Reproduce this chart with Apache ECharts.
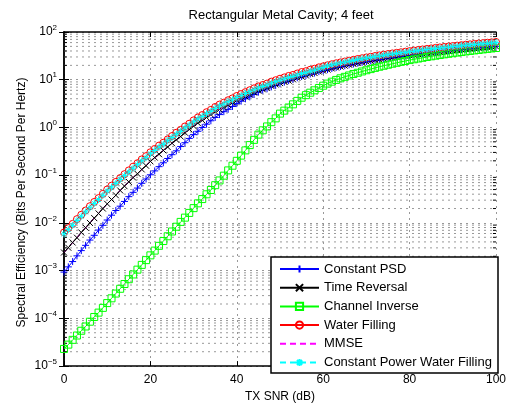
<!DOCTYPE html>
<html><head><meta charset="utf-8">
<script src="https://cdn.jsdelivr.net/npm/echarts@6/dist/echarts.min.js"></script>
<style>html,body{margin:0;padding:0;background:#fff}#c{width:509px;height:408px}</style>
</head><body><div id="c"></div>
<script>
// ---- data ----
const snrDb = [0,1,2,3,4,5,6,7,8,9,10,11,12,13,14,15,16,17,18,19,20,21,22,23,24,25,26,27,28,29,30,31,32,33,34,35,36,37,38,39,40,41,42,43,44,45,46,47,48,49,50,51,52,53,54,55,56,57,58,59,60,61,62,63,64,65,66,67,68,69,70,71,72,73,74,75,76,77,78,79,80,81,82,83,84,85,86,87,88,89,90,91,92,93,94,95,96,97,98,99,100];

const constantPsd = [9.33e-4,1.20e-3,1.55e-3,2.04e-3,2.63e-3,3.39e-3,4.37e-3,5.50e-3,7.08e-3,8.91e-3,
 1.15e-2,1.45e-2,1.82e-2,2.24e-2,2.82e-2,3.55e-2,4.37e-2,5.37e-2,6.76e-2,8.32e-2,
 0.102,0.123,0.151,0.182,0.224,0.269,0.324,0.398,0.479,0.589,
 0.708,0.832,1.00,1.17,1.38,1.62,1.86,2.14,2.40,2.75,
 3.16,3.55,3.98,4.37,4.90,5.50,6.03,6.46,7.08,7.59,
 8.32,8.91,9.55,10.2,11.0,11.7,12.3,13.2,13.8,14.8,
 15.5,16.3,17.2,18.0,18.9,19.7,20.6,21.4,22.3,23.1,
 24.0,24.8,25.6,26.5,27.3,28.2,29.0,29.9,30.7,31.6,
 32.4,33.3,34.2,35.1,35.9,36.8,37.7,38.6,39.5,40.4,
 41.3,42.1,43.0,43.9,44.8,45.7,46.6,47.4,48.3,49.2,50.1];

const timeReversal = [2.40e-3,3.02e-3,3.89e-3,4.90e-3,6.31e-3,7.94e-3,1.00e-2,1.26e-2,1.58e-2,2.00e-2,
 2.51e-2,3.09e-2,3.80e-2,4.79e-2,5.89e-2,7.24e-2,8.91e-2,0.107,0.132,0.158,
 0.195,0.234,0.275,0.331,0.389,0.468,0.550,0.646,0.776,0.912,
 1.07,1.23,1.41,1.62,1.86,2.14,2.40,2.63,2.95,3.31,
 3.72,4.07,4.47,4.90,5.37,5.89,6.31,6.76,7.41,7.94,
 8.51,9.12,9.55,10.2,11.0,11.7,12.3,13.2,13.8,14.8,
 15.5,16.3,17.2,18.0,18.9,19.7,20.6,21.4,22.3,23.1,
 24.0,24.8,25.6,26.5,27.3,28.2,29.0,29.9,30.7,31.6,
 32.4,33.3,34.2,35.1,35.9,36.8,37.7,38.6,39.5,40.4,
 41.3,42.1,43.0,43.9,44.8,45.7,46.6,47.4,48.3,49.2,50.1];

const channelInverse = [2.29e-5,2.82e-5,3.55e-5,4.37e-5,5.50e-5,6.76e-5,8.51e-5,1.07e-4,1.32e-4,1.66e-4,
 2.09e-4,2.63e-4,3.31e-4,4.17e-4,5.25e-4,6.61e-4,8.32e-4,1.05e-3,1.32e-3,1.66e-3,
 2.09e-3,2.63e-3,3.31e-3,4.17e-3,5.25e-3,6.61e-3,8.32e-3,1.05e-2,1.29e-2,1.62e-2,
 2.04e-2,2.57e-2,3.16e-2,3.98e-2,4.90e-2,6.17e-2,7.76e-2,9.77e-2,0.126,0.158,
 0.200,0.257,0.331,0.427,0.550,0.708,0.871,1.05,1.29,1.55,
 1.95,2.25,2.62,3.05,3.60,4.20,4.75,5.35,6.00,6.70,
 7.50,8.30,9.10,9.90,10.7,11.5,12.3,13.2,14.0,14.9,
 15.8,16.7,17.7,18.7,19.6,20.6,21.6,22.6,23.7,24.7,
 25.8,26.8,27.8,28.8,29.9,30.9,31.9,32.9,34.0,35.0,
 36.0,37.0,38.0,39.1,40.1,41.1,42.1,43.1,44.2,45.2,46.2];

const waterFilling = [6.31e-3,7.76e-3,9.55e-3,1.20e-2,1.48e-2,1.82e-2,2.24e-2,2.75e-2,3.31e-2,4.07e-2,
 5.01e-2,6.03e-2,7.24e-2,8.71e-2,0.105,0.126,0.151,0.178,0.214,0.251,
 0.302,0.355,0.417,0.479,0.562,0.661,0.776,0.891,1.05,1.20,
 1.41,1.62,1.82,2.09,2.34,2.69,3.02,3.31,3.72,4.07,
 4.57,5.01,5.50,6.03,6.61,7.24,7.76,8.32,9.12,9.77,
 10.5,11.2,12.0,12.6,13.5,14.5,15.1,16.2,17.0,18.2,
 19.1,20.1,21.1,22.1,23.1,24.1,25.1,26.1,27.2,28.2,
 29.3,30.3,31.4,32.4,33.5,34.5,35.6,36.6,37.6,38.7,
 39.8,40.9,42.0,43.1,44.2,45.3,46.4,47.5,48.6,49.7,
 50.8,51.9,53.0,54.1,55.2,56.3,57.4,58.5,59.6,60.7,61.8];

const mmse = [2.40e-3,3.02e-3,3.89e-3,4.90e-3,6.31e-3,7.94e-3,1.00e-2,1.26e-2,1.58e-2,2.00e-2,
 2.51e-2,3.09e-2,3.80e-2,4.79e-2,5.89e-2,7.24e-2,8.91e-2,0.107,0.132,0.158,
 0.195,0.234,0.275,0.331,0.389,0.468,0.550,0.646,0.776,0.912,
 1.07,1.23,1.41,1.62,1.86,2.14,2.40,2.63,2.95,3.31,
 3.72,4.07,4.47,4.90,5.37,5.75,6.13,6.56,7.17,7.67,
 8.21,8.78,9.19,9.80,10.5,11.2,11.8,12.6,13.2,14.1,
 14.8,15.6,16.4,17.3,18.1,18.9,19.7,20.5,21.4,22.2,
 23.0,23.8,24.6,25.5,26.3,27.1,27.9,28.7,29.6,30.4,
 31.2,32.1,32.9,33.8,34.6,35.5,36.4,37.2,38.1,38.9,
 39.8,40.7,41.5,42.4,43.2,44.1,45.0,45.8,46.7,47.5,48.4];

const constPowerWaterFilling = [5.87e-3,7.22e-3,8.88e-3,1.12e-2,1.38e-2,1.69e-2,2.08e-2,2.56e-2,3.08e-2,3.79e-2,
 4.66e-2,5.61e-2,6.73e-2,8.10e-2,9.77e-2,0.117,0.140,0.166,0.199,0.233,
 0.281,0.330,0.388,0.445,0.523,0.615,0.722,0.829,0.977,1.12,
 1.31,1.51,1.69,1.94,2.18,2.50,2.81,3.08,3.46,3.79,
 4.25,4.66,5.12,5.61,6.15,6.73,7.22,7.74,8.48,9.09,
 9.77,10.4,11.2,11.7,12.6,13.5,14.0,15.1,15.8,16.9,
 18.0,19.5,20.5,21.4,22.4,23.4,24.3,25.3,26.4,27.4,
 28.4,29.4,30.5,31.4,32.5,33.5,34.5,35.5,36.5,37.5,
 38.6,39.7,40.7,41.8,42.9,43.9,45.0,46.1,47.1,48.2,
 49.3,50.3,51.4,52.5,53.5,54.6,55.7,56.7,57.8,58.9,59.9];

const seriesNames = ['Constant PSD','Time Reversal','Channel Inverse','Water Filling','MMSE','Constant Power Water Filling'];
const xTicks = [0,20,40,60,80,100];
const yDecadeExponents = [-5,-4,-3,-2,-1,0,1,2];
const minorMultipliers = [2,3,4,5,6,7,8,9];

// ---- build ----
const FONT = '"Liberation Sans", Arial, Helvetica, sans-serif';
const pairs = ys => snrDb.map((x, i) => [x, ys[i]]);
const minorValues = [];
yDecadeExponents.slice(0, -1).forEach(e => minorMultipliers.forEach(m => minorValues.push([0, m * Math.pow(10, e)])));

const SYM_PLUS = 'path://M0,5L10,5M5,0L5,10';
const SYM_X = 'path://M0,0L10,10M10,0L0,10';
const SYM_STAR = 'path://M0,5L10,5M5,0L5,10M1.5,1.5L8.5,8.5M8.5,1.5L1.5,8.5';
const GRID = {left: 64, top: 32, right: 11, bottom: 35};
const GRID_COLOR = '#999';
const CLEAR = 'rgba(0,0,0,0)';

function lineSeries(name, ys, color, symbol, size, dashed) {
  const noMarker = symbol === 'none';
  return {
    name, type: 'line', data: pairs(ys), clip: false, z: 3,
    symbol: noMarker ? 'circle' : symbol, symbolSize: size, showSymbol: !noMarker,
    lineStyle: {color, width: 1, type: dashed ? [6, 4] : 'solid'},
    itemStyle: {color: CLEAR, borderColor: noMarker ? CLEAR : color, borderWidth: noMarker ? 0 : 1},
    emphasis: {disabled: true}, animation: false
  };
}

const chart = echarts.init(document.getElementById('c'), null, {renderer: 'canvas'});
const supMinus = e => (e < 0 ? '\u2212' + Math.abs(e) : String(e));
chart.setOption({
  backgroundColor: '#fff',
  animation: false,
  title: {text: 'Rectangular Metal Cavity; 4 feet', left: 281, top: 9, textAlign: 'center', padding: 0,
    textStyle: {fontFamily: FONT, fontSize: 13, fontWeight: 'normal', color: '#000'}},
  grid: GRID,
  legend: {
    orient: 'vertical', left: 279, top: 262.5, itemWidth: 39, itemHeight: 9, itemGap: 5.7,
    padding: 0, data: seriesNames, selectedMode: false,
    textStyle: {fontFamily: FONT, fontSize: 13, color: '#000', lineHeight: 13}
  },
  graphic: [
    {type: 'rect', z: 3, shape: {x: 271, y: 257, width: 227, height: 116},
     style: {fill: '#fff', stroke: '#000', lineWidth: 1.5}},
    {type: 'text', z: 5, x: 22, y: 202.5, rotation: Math.PI / 2,
     style: {text: 'Spectral Efficiency (Bits Per Second Per Hertz)', fontFamily: FONT, fontSize: 12,
             fill: '#000', align: 'center', verticalAlign: 'middle'}}
  ],
  xAxis: [{
    type: 'value', min: 0, max: 100, interval: 20,
    name: 'TX SNR (dB)', nameLocation: 'middle', nameGap: 21,
    nameTextStyle: {fontFamily: FONT, fontSize: 12, color: '#000'},
    axisLine: {lineStyle: {color: '#000', width: 1.5}},
    axisTick: {inside: true, length: 5, lineStyle: {color: '#000'}},
    axisLabel: {fontFamily: FONT, fontSize: 12, color: '#000', margin: 8,
      customValues: xTicks},
    splitLine: {show: true, lineStyle: {color: GRID_COLOR, type: [2, 4], width: 1}}
  }, {
    type: 'value', min: 0, max: 100, interval: 20, position: 'top',
    axisLine: {show: true, onZero: false, lineStyle: {color: '#000', width: 1.5}},
    axisTick: {inside: true, length: 5, lineStyle: {color: '#000'}},
    axisLabel: {show: false}, splitLine: {show: false}
  }],
  yAxis: [{
    type: 'log', logBase: 10, min: 1e-5, max: 100, splitNumber: 7,
    axisLine: {show: true, lineStyle: {color: '#000', width: 1.5}},
    axisTick: {show: true, inside: true, length: 5, lineStyle: {color: '#000'}},
    axisLabel: {
      margin: 7, fontFamily: FONT, color: '#000',
      formatter: v => '{b|10}{e|' + supMinus(Math.round(Math.log10(v))) + '}',
      rich: {b: {fontSize: 12, fontFamily: FONT, color: '#000'},
             e: {fontSize: 8, fontFamily: FONT, color: '#000', padding: [0, 0, 9, 0]}}
    },
    splitLine: {show: true, lineStyle: {color: GRID_COLOR, type: [2, 4], width: 1}}
  }, {
    type: 'log', logBase: 10, min: 1e-5, max: 100, splitNumber: 7, position: 'right',
    axisLine: {show: true, lineStyle: {color: '#000', width: 1.5}},
    axisTick: {show: true, inside: true, length: 5, lineStyle: {color: '#000'}},
    axisLabel: {show: false}, splitLine: {show: false}
  }],
  series: [
    {
      type: 'custom', name: 'minorGrid', silent: true, z: 1, clip: false,
      data: minorValues, encode: {x: 0, y: 1},
      renderItem: (params, api) => {
        const v = api.value(1);
        const p0 = api.coord([0, v]);
        const p1 = api.coord([100, v]);
        return {type: 'group', children: [
          {type: 'line', shape: {x1: p0[0], y1: p0[1], x2: p1[0], y2: p1[1]},
           style: {stroke: GRID_COLOR, lineWidth: 1, lineDash: [2, 4]}},
          {type: 'line', shape: {x1: p0[0], y1: p0[1], x2: p0[0] + 3, y2: p0[1]},
           style: {stroke: '#000', lineWidth: 1}},
          {type: 'line', shape: {x1: p1[0] - 3, y1: p1[1], x2: p1[0], y2: p1[1]},
           style: {stroke: '#000', lineWidth: 1}}
        ]};
      }
    },
    lineSeries(seriesNames[0], constantPsd, '#0000ff', SYM_PLUS, 7, false),
    lineSeries(seriesNames[1], timeReversal, '#000000', SYM_X, 6, false),
    lineSeries(seriesNames[2], channelInverse, '#00ff00', 'rect', 7, false),
    lineSeries(seriesNames[3], waterFilling, '#ff0000', 'circle', 7, false),
    lineSeries(seriesNames[4], mmse, '#ff00ff', 'none', 0, true),
    lineSeries(seriesNames[5], constPowerWaterFilling, '#00ffff', SYM_STAR, 7, true)
  ]
});
</script></body></html>
